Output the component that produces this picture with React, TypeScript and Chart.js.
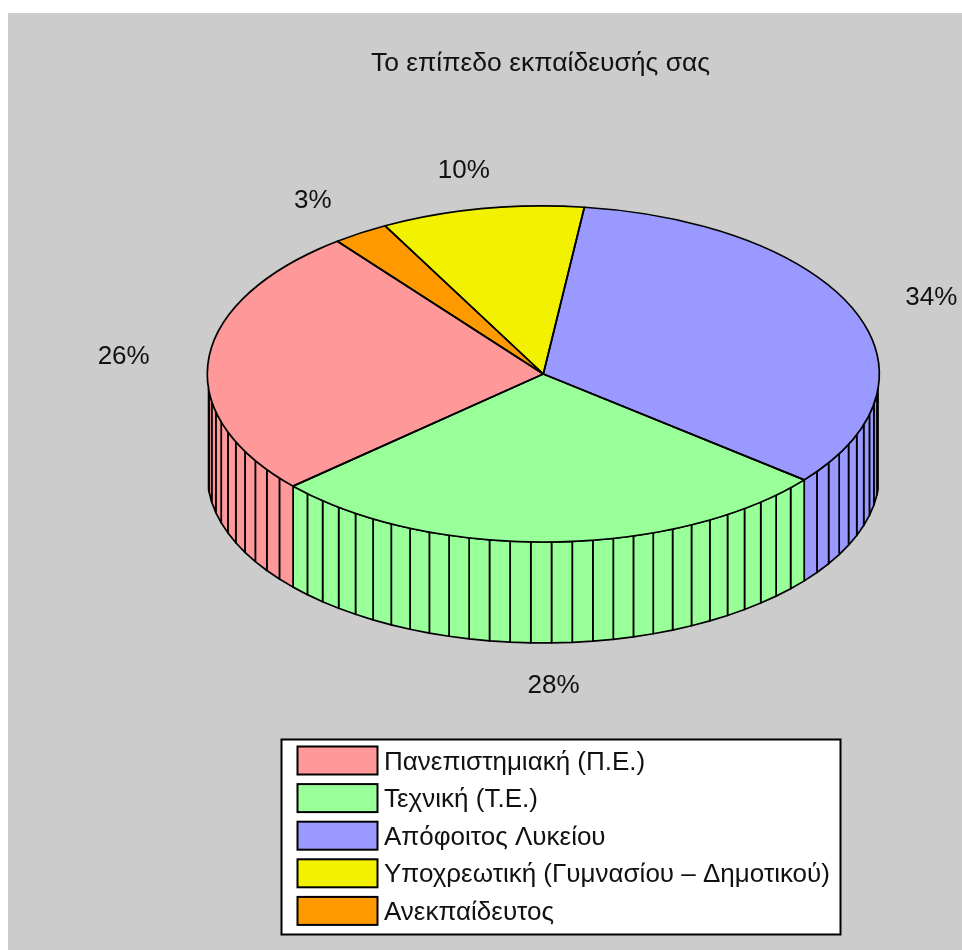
import React, { useEffect, useRef } from "react";
import { Chart, registerables } from "chart.js";

Chart.register(...registerables);

const TITLE = "Το επίπεδο εκπαίδευσής σας";
const categories = [
  "Πανεπιστημιακή (Π.Ε.)",
  "Τεχνική (Τ.Ε.)",
  "Απόφοιτος Λυκείου",
  "Υποχρεωτική (Γυμνασίου – Δημοτικού)",
  "Ανεκπαίδευτος",
];
const shares = [26.13, 27.52, 33.9, 9.75, 2.7];
const colors = ["#FF9999", "#99FF99", "#9999FF", "#F2F200", "#FF9900"];

const FONT = "26px 'Liberation Sans', Arial, sans-serif";
const INK = "#000000";
const CENTER_X = 535.3;
const CENTER_Y = 361;
const RX = 336;
const RY = 168;
const DEPTH = 101;
const LABEL_RADIUS = 1.245;
const DEG = Math.PI / 180;

const total = shares.reduce((a, b) => a + b, 0);
const sx = (a: number) => CENTER_X + RX * Math.cos(a);
const sy = (a: number) => CENTER_Y + RY * Math.sin(a);

const pie3d = {
  id: "pie3d",
  beforeDraw(chart: any) {
    const { ctx, width, height } = chart;
    ctx.save();
    ctx.fillStyle = "#CCCCCC";
    ctx.fillRect(0, 0, width, height);
    ctx.restore();
  },
  beforeDatasetsDraw(chart: any) {
    const { ctx } = chart;
    const arcs = chart.getDatasetMeta(0).data;
    ctx.save();
    ctx.lineWidth = 1.7;
    ctx.strokeStyle = INK;
    ctx.lineJoin = "round";
    arcs.forEach((arc: any, i: number) => {
      const pct = Math.round((chart.data.datasets[0].data[i] / total) * 100);
      const step = (arc.endAngle - arc.startAngle) / pct;
      for (let k = 0; k < pct; k++) {
        let a = ((arc.startAngle + k * step) / DEG) % 360;
        if (a < 0) a += 360;
        const b = a + step / DEG;
        const from = Math.max(a, 5) * DEG;
        const to = Math.min(b, 175) * DEG;
        if (to <= from) continue;
        ctx.beginPath();
        ctx.moveTo(sx(from), sy(from));
        ctx.lineTo(sx(to), sy(to));
        ctx.lineTo(sx(to), sy(to) + DEPTH);
        ctx.lineTo(sx(from), sy(from) + DEPTH);
        ctx.closePath();
        ctx.fillStyle = arc.options.backgroundColor;
        ctx.fill();
        ctx.stroke();
      }
    });
    ctx.restore();

    const first = arcs[0];
    ctx.save();
    ctx.translate(CENTER_X, CENTER_Y);
    ctx.scale(RX / first.outerRadius, RY / first.outerRadius);
    ctx.translate(-first.x, -first.y);
  },
  afterDatasetsDraw(chart: any) {
    const { ctx } = chart;
    ctx.restore();
    const arcs = chart.getDatasetMeta(0).data;
    ctx.save();
    ctx.lineWidth = 1.7;
    ctx.strokeStyle = INK;
    ctx.lineJoin = "round";
    arcs.forEach((arc: any) => {
      ctx.beginPath();
      ctx.ellipse(CENTER_X, CENTER_Y, RX, RY, 0, arc.startAngle, arc.endAngle);
      ctx.lineTo(CENTER_X, CENTER_Y);
      ctx.closePath();
      ctx.stroke();
    });
    ctx.restore();
  },
  afterDraw(chart: any) {
    const { ctx } = chart;
    const arcs = chart.getDatasetMeta(0).data;
    const values = chart.data.datasets[0].data;
    const names = chart.data.labels;
    ctx.save();
    ctx.font = FONT;
    ctx.fillStyle = "#111111";
    ctx.textAlign = "center";
    ctx.textBaseline = "middle";
    arcs.forEach((arc: any, i: number) => {
      const mid = (arc.startAngle + arc.endAngle) / 2;
      const s = Math.sin(mid);
      const c = Math.cos(mid);
      const x = CENTER_X + LABEL_RADIUS * RX * c - (c < -0.1 ? 3 : 0);
      const y = CENTER_Y + LABEL_RADIUS * RY * s + (s > 0 ? DEPTH : 0) + 2;
      ctx.fillText(`${Math.round((values[i] / total) * 100)}%`, x, y);
    });

    // legend box, in legend order (the reverse of the clockwise drawing order)
    const left = 273.5;
    const top = 726.5;
    ctx.fillStyle = "#FFFFFF";
    ctx.strokeStyle = INK;
    ctx.lineWidth = 2;
    ctx.fillRect(left, top, 559, 195);
    ctx.strokeRect(left, top, 559, 195);
    const count = names.length;
    ctx.textAlign = "left";
    for (let r = 0; r < count; r++) {
      const i = count - 1 - r;
      const y = 733.5 + r * 37.6;
      ctx.fillStyle = arcs[i].options.backgroundColor;
      ctx.fillRect(289.5, y, 80, 28);
      ctx.strokeRect(289.5, y, 80, 28);
      ctx.fillStyle = "#111111";
      ctx.fillText(names[i], 376, y + 16);
    }
    ctx.restore();
  },
};

export default function App() {
  const ref = useRef<HTMLCanvasElement>(null);
  useEffect(() => {
    const chart = new Chart(ref.current as HTMLCanvasElement, {
      type: "pie",
      data: {
        labels: [...categories].reverse(),
        datasets: [
          {
            data: [...shares].reverse(),
            backgroundColor: [...colors].reverse(),
            borderWidth: 0,
            clip: false,
          } as any,
        ],
      },
      options: {
        responsive: false,
        animation: false,
        rotation: 322.2,
        layout: { padding: { left: 111 } },
        plugins: {
          legend: { display: false },
          tooltip: { enabled: false },
          title: {
            display: true,
            text: TITLE,
            fullSize: false,
            color: "#111111",
            font: { family: "'Liberation Sans', Arial, sans-serif", size: 26.5, weight: "normal" },
            padding: { top: 35, bottom: 10 },
          },
        },
      } as any,
      plugins: [pie3d],
    });
    return () => chart.destroy();
  }, []);
  return (
    <div style={{ position: "absolute", left: 8, top: 13 }}>
      <canvas ref={ref} width={954} height={937} style={{ display: "block" }} />
    </div>
  );
}
